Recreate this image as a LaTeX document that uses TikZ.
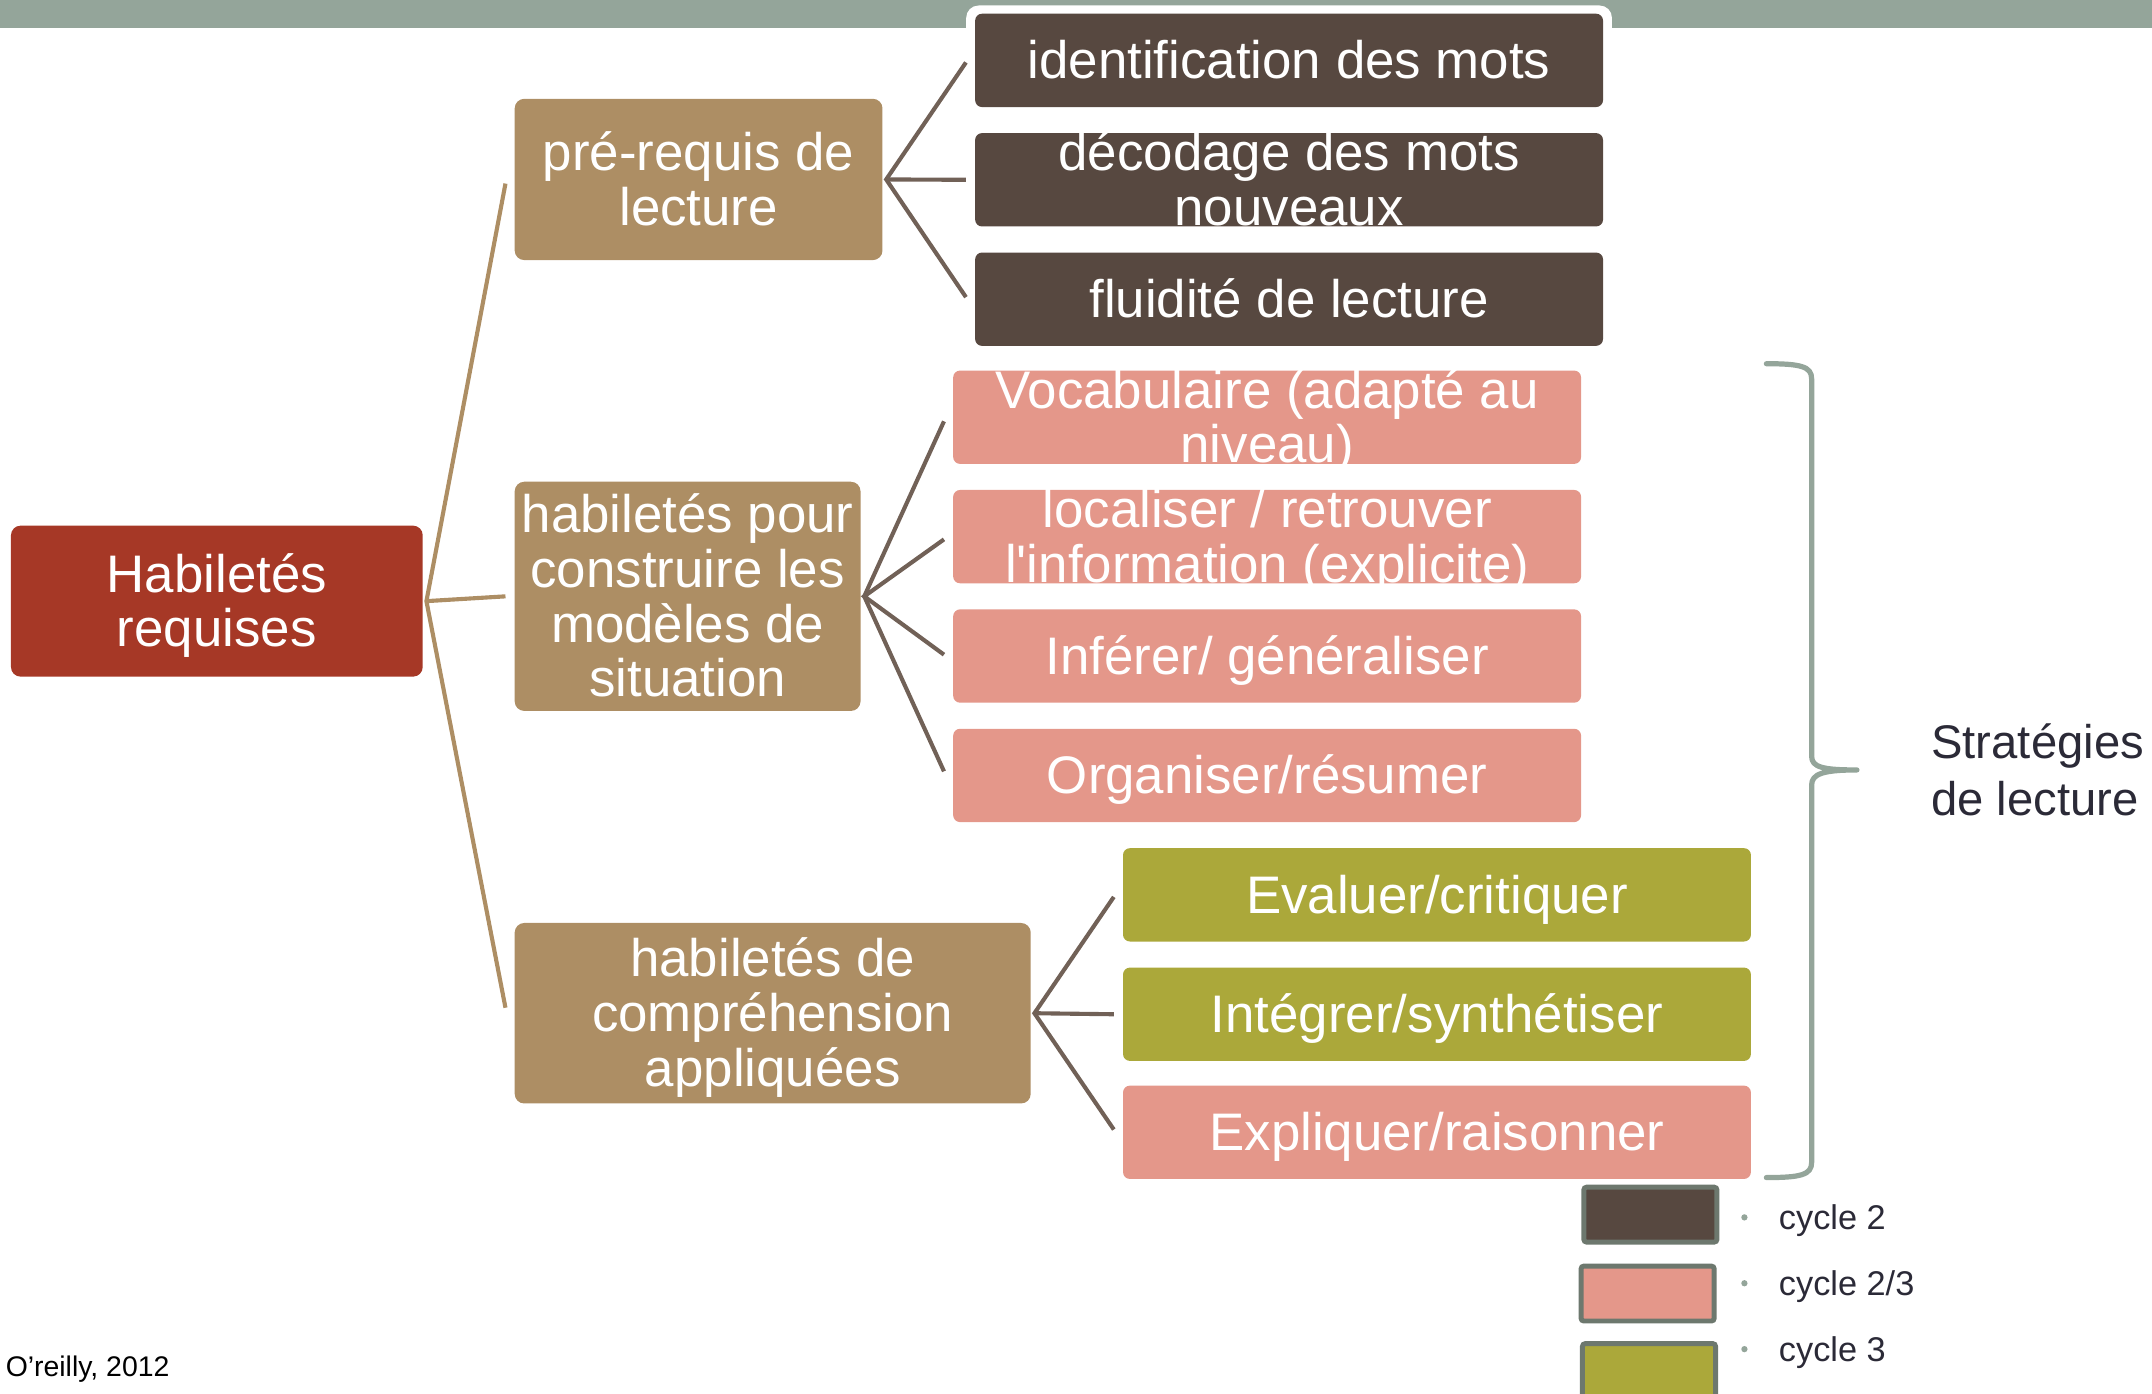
\documentclass[tikz,border=0pt]{standalone}
\usepackage{fontspec}
\setmainfont{Liberation Sans}
\usetikzlibrary{calc}
\definecolor{cbar}{RGB}{148,165,154}
\definecolor{cdark}{RGB}{87,72,64}
\definecolor{ctan}{RGB}{173,142,100}
\definecolor{croot}{RGB}{166,56,38}
\definecolor{csalmon}{RGB}{228,151,138}
\definecolor{colive}{RGB}{171,168,58}
\definecolor{clinkdark}{RGB}{113,97,87}
\definecolor{clegend}{RGB}{109,120,110}
\definecolor{cink}{RGB}{43,42,55}
\begin{document}
\begin{tikzpicture}[x=1pt,y=-1pt,
  leaf/.style={rectangle, rounded corners=5pt, inner sep=0pt,
    minimum width=457.5pt, minimum height=68pt},
  cyctwo/.style={leaf, fill=cdark},
  cycmid/.style={leaf, fill=csalmon},
  cycthree/.style={leaf, fill=colive},
  parentbox/.style={rectangle, rounded corners=7pt, inner sep=0pt, fill=ctan},
  lbl/.style={text=white, align=center, inner sep=0pt,
    font=\fontsize{38.5}{40}\selectfont, text depth=8.16pt},
  lblone/.style={lbl, text height=34.84pt},
  lbltwo/.style={lbl, text height=74.84pt},
  lblthree/.style={lbl, text height=114.84pt},
  lblfour/.style={lbl, text height=154.84pt},
  tanlink/.style={draw=ctan, line width=3pt},
  darklink/.style={draw=clinkdark, line width=3pt},
  legbox/.style={rectangle, rounded corners=2pt, draw=clegend, line width=3.6pt,
    minimum width=97pt, minimum height=40pt, inner sep=0pt},
  legtext/.style={anchor=base west, inner sep=0pt, text=cink,
    font=\fontsize{25}{30}\selectfont},
  legdot/.style={fill=cbar}
]
\useasboundingbox (0,0) rectangle (1568,1015);

% header band and the white rim around the first leaf
\fill[cbar] (0,0) rectangle (1568,20.5);
\fill[white, rounded corners=9pt] (704,4) rectangle (1174.5,84.5);

% root and second level
\node[rectangle, rounded corners=7pt, inner sep=0pt, fill=croot,
  minimum width=300pt, minimum height=110pt] (root) at (158,438) {};
\node[parentbox, minimum width=268pt, minimum height=117.5pt] (pre) at (509,130.75) {};
\node[parentbox, minimum width=252pt, minimum height=167pt] (sit) at (501,434.5) {};
\node[parentbox, minimum width=376pt, minimum height=131.5pt] (app) at (563,738.25) {};

\node[lbltwo] (root-t) at (root) {Habiletés\\requises};
\node[lbltwo] (pre-t) at (pre) {pré-requis de\\lecture};
\node[lblfour] (sit-t) at (sit) {habiletés pour\\construire les\\modèles de\\situation};
\node[lblthree] (app-t) at (app) {habiletés de\\compréhension\\appliquées};

% leaves
\node[cyctwo] (idm) at (939.25,44) {};
\node[cyctwo] (dec) at (939.25,131) {};
\node[cyctwo] (flu) at (939.25,218) {};
\node[cycmid] (voc) at (923.25,304) {};
\node[cycmid] (loc) at (923.25,391) {};
\node[cycmid] (inf) at (923.25,478) {};
\node[cycmid] (org) at (923.25,565) {};
\node[cycthree] (eva) at (1047,652) {};
\node[cycthree] (int) at (1047,739) {};
\node[cycmid] (exp) at (1047,825) {};

\node[lblone] (idm-t) at (idm) {identification des mots};
\node[lbltwo] (dec-t) at (dec) {décodage des mots\\nouveaux};
\node[lblone] (flu-t) at (flu) {fluidité de lecture};
\node[lbltwo] (voc-t) at (voc) {Vocabulaire (adapté au\\niveau)};
\node[lbltwo] (loc-t) at (loc) {localiser / retrouver\\l\textquotesingle information (explicite)};
\node[lblone] (inf-t) at (inf) {Inférer/ généraliser};
\node[lblone] (org-t) at (org) {Organiser/résumer};
\node[lblone] (eva-t) at (eva) {Evaluer/critiquer};
\node[lblone] (int-t) at (int) {Intégrer/synthétiser};
\node[lblone] (exp-t) at (exp) {Expliquer/raisonner};

% fan-out junctions just right of each parent
\coordinate (jroot) at ($(root.east)+(2.5,0)$);
\coordinate (jpre) at ($(pre.east)+(2.5,0)$);
\coordinate (jsit) at ($(sit.east)+(2.5,0)$);
\coordinate (japp) at ($(app.east)+(2.5,0)$);

\draw[tanlink] ($(pre.west)+(-6.5,3)$) -- (jroot) -- ($(app.west)+(-6.5,-4)$);
\draw[tanlink] (jroot) -- ($(sit.west)+(-6.5,0)$);

\draw[darklink] ($(idm.west)+(-6.5,1.5)$) -- (jpre) -- ($(flu.west)+(-6.5,-1.5)$);
\draw[darklink] (jpre) -- ($(dec.west)+(-6.5,0)$);

\draw[darklink] ($(voc.west)+(-6.5,3)$) -- (jsit) -- ($(org.west)+(-6.5,-3)$);
\draw[darklink] ($(loc.west)+(-6.5,2)$) -- (jsit) -- ($(inf.west)+(-6.5,-1)$);

\draw[darklink] ($(eva.west)+(-6.5,1.5)$) -- (japp) -- ($(exp.west)+(-6.5,-2)$);
\draw[darklink] (japp) -- ($(int.west)+(-6.5,0)$);

% right brace grouping the reading strategies
\draw[cbar, line width=3.8pt, line cap=round, line join=round]
  (1287,265) .. controls (1312,265) and (1320,267) .. (1320,276)
  -- (1320,551) .. controls (1320,559) and (1328,561) .. (1353,561)
  .. controls (1328,561) and (1320,564) .. (1320,572)
  -- (1320,847) .. controls (1320,856) and (1312,858) .. (1287,858);
\node[anchor=base west, align=left, inner sep=0pt, text=cink,
  font=\fontsize{34.4}{41}\selectfont] (strat) at (1407,594) {Stratégies\\de lecture};

% legend
\node[legbox, fill=cdark] (leg2) at (1202.5,885) {};
\node[legbox, fill=csalmon] (leg23) at (1200.5,942.5) {};
\node[legbox, fill=colive] (leg3) at (1201.5,999) {};
\fill[legdot] (1271,887) circle (2.3);
\fill[legdot] (1271,935) circle (2.3);
\fill[legdot] (1271,983) circle (2.3);
\node[legtext] (leg2-t) at (1296,896) {cycle 2};
\node[legtext] (leg23-t) at (1296,944) {cycle 2/3};
\node[legtext] (leg3-t) at (1296,992) {cycle 3};

% source
\node[anchor=base west, inner sep=0pt, font=\fontsize{20.7}{24}\selectfont] (src) at (4,1003) {O’reilly, 2012};
\end{tikzpicture}
\end{document}
